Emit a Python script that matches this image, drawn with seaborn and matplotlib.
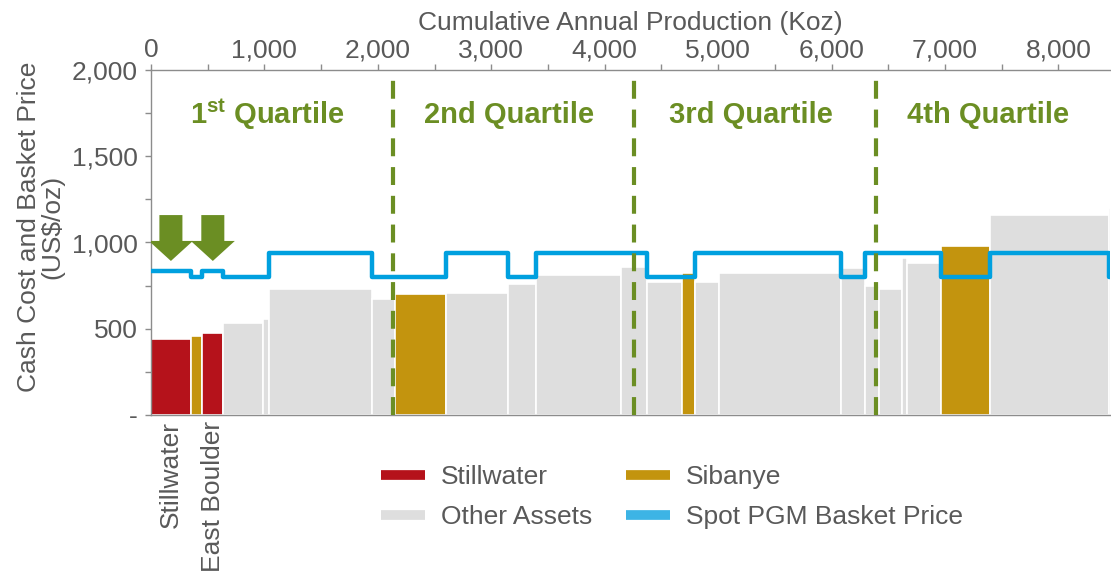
import numpy as np
import matplotlib
matplotlib.use('Agg')
import matplotlib.pyplot as plt
from matplotlib.lines import Line2D
from matplotlib.patches import FancyArrow
from matplotlib.ticker import MultipleLocator, FuncFormatter
import pandas as pd
import seaborn as sns

# cost curve: production (Koz), cash cost and basket price (US$/oz)
asset_names = ['Stillwater', '', 'East Boulder', '', '', '', '', '', '', '', '', '',
               '', '', '', '', '', '', '', '', '', '', '', '']
asset_group = ['Stillwater', 'Sibanye', 'Stillwater', 'Other Assets', 'Other Assets',
               'Other Assets', 'Other Assets', 'Sibanye', 'Other Assets', 'Other Assets',
               'Other Assets', 'Other Assets', 'Other Assets', 'Sibanye', 'Other Assets',
               'Other Assets', 'Other Assets', 'Other Assets', 'Other Assets', 'Other Assets',
               'Other Assets', 'Sibanye', 'Other Assets', 'Other Assets']
production = [351, 103, 182, 348, 53, 910, 204, 454, 546, 243, 746, 233,
              311, 115, 213, 1070, 214, 125, 199, 48, 295, 432, 1053, 75]
cash_cost = [442, 458, 473, 531, 558, 729, 674, 701, 709, 761, 812, 858,
             769, 821, 769, 821, 850, 750, 730, 908, 883, 980, 1159, 1200]
basket_price = [835, 798, 835, 798, 798, 940, 798, 798, 940, 798, 940, 940,
                798, 798, 940, 940, 798, 940, 940, 940, 940, 798, 940, 798]
arrow_assets = ['Stillwater', 'East Boulder']
quartile_labels = [r'1$^{\mathbf{st}}$ Quartile', '2nd Quartile', '3rd Quartile', '4th Quartile']
quartile_cuts = [0.25, 0.5, 0.75]

colors = {'Stillwater': '#B5121B', 'Sibanye': '#C3940E', 'Other Assets': '#DEDEDE'}
blue = '#00A0DF'
green = '#6B8E23'
grey_txt = '#595959'
grey_ax = '#8C8C8C'
fs = 19

df = pd.DataFrame({'name': asset_names, 'group': asset_group, 'prod': production,
                   'cost': cash_cost, 'price': basket_price})
df['left'] = df['prod'].cumsum() - df['prod']
df['mid'] = df['left'] + df['prod'] / 2
total = df['prod'].sum()

sns.set_theme(style='white')
plt.rcParams['font.family'] = ['Liberation Sans', 'DejaVu Sans']
plt.rcParams['mathtext.fontset'] = 'custom'
plt.rcParams['mathtext.rm'] = 'Liberation Sans'
plt.rcParams['mathtext.bf'] = 'Liberation Sans:bold'

fig = plt.figure(figsize=(11.11, 5.78), dpi=100)
ax = fig.add_axes([151 / 1111, 1 - 415 / 578, 959 / 1111, 345 / 578])

ax.bar(df['left'], df['cost'], width=df['prod'], align='edge',
       color=[colors[g] for g in df['group']], edgecolor='white', linewidth=1.2, zorder=2)

# basket price as a step line over the assets
step_x = np.append(df['left'].values, total)
step_y = np.append(df['price'].values, df['price'].values[-1])
sns.lineplot(x=step_x, y=step_y, drawstyle='steps-post', color=blue, lw=3.2,
             ax=ax, zorder=3, sort=False)

# arrows over Stillwater and East Boulder
for name in arrow_assets:
    cx = df.loc[df['name'] == name, 'mid'].values[0]
    ax.add_patch(FancyArrow(cx, 1159, 0, -266, width=203, head_width=388,
                            head_length=116, length_includes_head=True,
                            color=green, lw=0, zorder=4))

xmax = 8455
# quartile lines and labels
cuts = [total * q for q in quartile_cuts]
for c in cuts:
    ax.axvline(c, color=green, lw=3, ls=(0, (4.3, 2.6)), zorder=5)
bounds = [0] + cuts + [xmax]
for i, lab in enumerate(quartile_labels):
    ax.text((bounds[i] + bounds[i + 1]) / 2 - 40, 1740, lab, color=green,
            fontsize=21, fontweight='bold', ha='center', va='center')

# axes
ax.set_xlim(0, xmax)
ax.set_ylim(0, 2000)
ax.xaxis.tick_top()
ax.xaxis.set_label_position('top')
ax.xaxis.set_major_locator(MultipleLocator(1000))
ax.xaxis.set_minor_locator(MultipleLocator(500))
ax.yaxis.set_major_locator(MultipleLocator(500))
ax.yaxis.set_minor_locator(MultipleLocator(250))
ax.xaxis.set_major_formatter(FuncFormatter(lambda v, p: f'{v:,.0f}'))
ax.yaxis.set_major_formatter(FuncFormatter(lambda v, p: '-' if v == 0 else f'{v:,.0f}'))
ax.tick_params(axis='both', which='both', direction='out', color=grey_ax,
               labelsize=fs, labelcolor=grey_txt, length=4.5, width=1)
ax.tick_params(axis='x', which='both', top=True, bottom=False, pad=1)
ax.tick_params(axis='y', which='both', left=True, pad=5)
for s in ['left', 'top', 'bottom']:
    ax.spines[s].set_color(grey_ax)
    ax.spines[s].set_linewidth(1)
ax.spines['right'].set_visible(False)

ax.set_xlabel('Cumulative Annual Production (Koz)', fontsize=fs, color=grey_txt, labelpad=6)
ax.set_ylabel('Cash Cost and Basket Price\n(US$/oz)', fontsize=fs, color=grey_txt,
              linespacing=1.0)
ax.yaxis.set_label_coords(-0.09, 0.545)

# asset names under the axis
for name in arrow_assets:
    cx = df.loc[df['name'] == name, 'mid'].values[0]
    ax.annotate(name, xy=(cx, 0), xycoords=('data', 'axes fraction'),
                xytext=(0, -4), textcoords='offset points', rotation=90,
                ha='center', va='top', fontsize=fs, color=grey_txt)

handles = [Line2D([0], [0], color=colors['Stillwater'], lw=7, solid_capstyle='butt'),
           Line2D([0], [0], color=colors['Other Assets'], lw=7, solid_capstyle='butt'),
           Line2D([0], [0], color=colors['Sibanye'], lw=7, solid_capstyle='butt'),
           Line2D([0], [0], color='#3DB4E5', lw=7, solid_capstyle='butt')]
labels = ['Stillwater', 'Other Assets', 'Sibanye', 'Spot PGM Basket Price']
fig.legend(handles, labels, ncol=2, loc='center', bbox_to_anchor=(672 / 1111, 1 - 497 / 578),
           frameon=False, fontsize=fs, labelcolor=grey_txt, handlelength=1.67,
           handletextpad=0.6, columnspacing=1.29, labelspacing=0.6)

fig.savefig('out.png', dpi=100)
